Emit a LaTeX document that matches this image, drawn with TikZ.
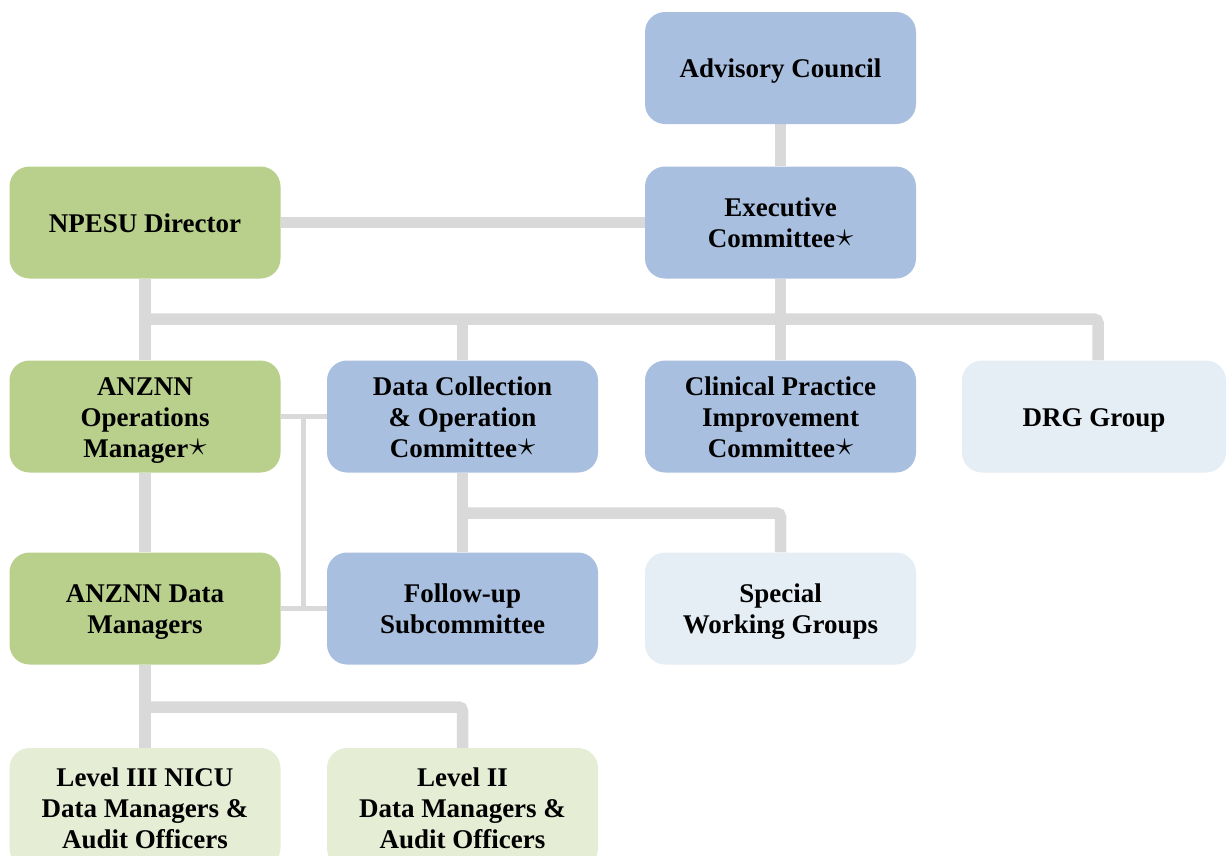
\documentclass[tikz,border=0pt]{standalone}
\usepackage{fontspec}
\setmainfont{Liberation Serif}
\usetikzlibrary{backgrounds}
\definecolor{midblue}{RGB}{169,191,223}
\definecolor{midgreen}{RGB}{185,207,140}
\definecolor{paleblue}{RGB}{229,237,245}
\definecolor{palegreen}{RGB}{230,237,213}
\definecolor{linegray}{RGB}{217,217,217}
\newcommand{\stmark}{\kern1pt\raisebox{0.06em}{\scalebox{1.4}{$\star$}}}
\newcommand{\boxtext}[1]{\raisebox{-3.5pt}[\height][\depth]{\begin{tabular}{@{}c@{}}#1\end{tabular}}}
\tikzset{
  orgbox/.style={rounded corners=20pt, minimum width=271pt, minimum height=112pt,
    align=center, inner sep=0pt, text=black,
    font=\bfseries\fontsize{27}{31}\selectfont},
  bluebox/.style={orgbox, fill=midblue},
  greenbox/.style={orgbox, fill=midgreen},
  paleblue box/.style={orgbox, fill=paleblue},
  palegreen box/.style={orgbox, fill=palegreen},
  thickline/.style={draw=linegray, line width=11.5pt},
  thinline/.style={draw=linegray, line width=5pt},
}
\begin{document}
\begin{tikzpicture}[x=1pt, y=-1pt]
\useasboundingbox (0,0) rectangle (1227,855);
\clip (0,0) rectangle (1227,855);
\node[bluebox] (adv) at (780.5,68) {\boxtext{Advisory Council}};
\node[bluebox] (exe) at (780.5,222.5) {\boxtext{Executive\\Committee\stmark}};
\node[greenbox] (npesu) at (145,222.5) {\boxtext{NPESU Director}};
\node[greenbox] (ops) at (145,416.5) {\boxtext{ANZNN\\Operations\\Manager\stmark}};
\node[bluebox] (dcc) at (462.5,416.5) {\boxtext{Data Collection\\\& Operation\\Committee\stmark}};
\node[bluebox] (cpi) at (780.5,416.5) {\boxtext{Clinical Practice\\Improvement\\Committee\stmark}};
\node[paleblue box, minimum width=264pt] (drg) at (1094,416.5) {\boxtext{DRG Group}};
\node[greenbox] (dm) at (145,608.5) {\boxtext{ANZNN Data\\Managers}};
\node[bluebox] (fu) at (462.5,608.5) {\boxtext{Follow-up\\Subcommittee}};
\node[paleblue box] (swg) at (780.5,608.5) {\boxtext{Special\\Working Groups}};
\node[palegreen box, minimum height=120pt] (l3) at (145,808) {\boxtext{Level III NICU\\Data Managers \&\\Audit Officers}};
\node[palegreen box, minimum height=120pt] (l2) at (462.5,808) {\boxtext{Level II\\Data Managers \&\\Audit Officers}};
\coordinate (bus1) at (145,319);
\coordinate (drgin) at (1098,319);
\coordinate (bus2) at (462.5,513);
\coordinate (bus3) at (145,707);
\coordinate (thintop) at (303,416.5);
\coordinate (thinbot) at (303,608.5);
\begin{scope}[on background layer]
\draw[thickline] (adv.south) -- (exe.north);
\draw[thickline] (npesu.east) -- (exe.west);
\draw[thickline] (npesu.south) -- (ops.north);
\draw[thickline, rounded corners=4pt] (bus1) -- (drgin) -- (drgin |- drg.north);
\draw[thickline] (dcc.north) -- (dcc.north |- bus1);
\draw[thickline] (exe.south) -- (cpi.north);
\draw[thickline] (ops.south) -- (dm.north);
\draw[thickline] (dcc.south) -- (fu.north);
\draw[thickline, rounded corners=4pt] (bus2) -| (swg.north);
\draw[thickline] (dm.south) -- (l3.north);
\draw[thickline, rounded corners=4pt] (bus3) -| (l2.north);
\draw[thinline] (ops.east) -- (dcc.west);
\draw[thinline] (dm.east) -- (fu.west);
\draw[thinline] (thintop) -- (thinbot);
\end{scope}
\end{tikzpicture}
\end{document}
